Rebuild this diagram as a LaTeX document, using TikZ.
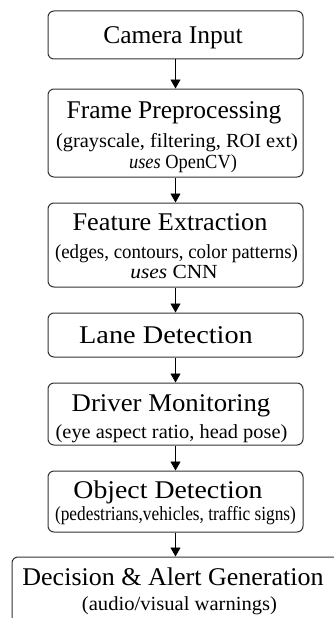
\documentclass[tikz,border=0pt]{standalone}
\usepackage{fontspec}
\setmainfont{Liberation Serif}
\usepackage{graphicx}
\usetikzlibrary{arrows.meta}
\newcommand\mytitle[2]{\scalebox{#1}[1]{\fontsize{25.5}{26}\selectfont #2}}
\newcommand\mysub[2]{\scalebox{#1}[1]{\fontsize{20}{21}\selectfont #2}}
\begin{document}
\begin{tikzpicture}[x=1pt,y=-1pt,
  box/.style={draw=black!80, line width=1pt, rounded corners=6pt, minimum width=255pt, inner sep=0pt},
  txt/.style={anchor=base, inner sep=0pt, text=black},
  arr/.style={draw=black, line width=0.9pt, -{Triangle[length=9pt,width=10pt]}}]
\useasboundingbox (0,0) rectangle (334,618);
\fill[white] (0,0) rectangle (334,618);
% boxes
\node[box, minimum height=48pt] (cam) at (175.5,35) {};
\node[box, minimum height=88pt] (pre) at (175.5,133) {};
\node[box, minimum height=84pt] (fea) at (175.5,245) {};
\node[box, minimum height=44pt] (lane) at (175.5,335) {};
\node[box, minimum height=62pt] (drv) at (175.5,414) {};
\node[box, minimum height=61pt] (obj) at (175.5,501.5) {};
\node[box, minimum height=82pt, minimum width=327pt] (dec) at (175.5,598) {};
% texts
\node[txt] (camt) at (173,43.5) {\mytitle{1}{Camera Input}};
\node[txt] (pret) at (174,118) {\mytitle{1}{Frame Preprocessing}};
\node[txt] (pres1) at (177,147) {\mysub{1.02}{(grayscale, filtering, ROI ext)}};
\node[txt] (pres2) at (183,168) {\mysub{0.92}{\textit{uses} OpenCV)}};
\node[txt] (feat) at (170,230) {\mytitle{1.03}{Feature Extraction}};
\node[txt] (feas1) at (176.5,258) {\mysub{0.945}{(edges, contours, color patterns)}};
\node[txt] (feas2) at (174,278) {\mysub{1.07}{\textit{uses} CNN}};
\node[txt] (lanet) at (166,343) {\mytitle{1.11}{Lane Detection}};
\node[txt] (drvt) at (171,411) {\mytitle{1.05}{Driver Monitoring}};
\node[txt] (drvs) at (171.5,438) {\mysub{1.02}{(eye aspect ratio, head pose)}};
\node[txt] (objt) at (168,498) {\mytitle{1.09}{Object Detection}};
\node[txt] (objs) at (175.5,520) {\mysub{0.865}{(pedestrians,vehicles, traffic signs)}};
\node[txt] (dect) at (173,585) {\mytitle{1.02}{Decision \& Alert Generation}};
\node[txt] (decs) at (179.5,610) {\mysub{1.03}{(audio/visual warnings)}};
% arrows
\draw[arr] (cam.south) -- (pre.north);
\draw[arr] (pre.south) -- (fea.north);
\draw[arr] (fea.south) -- (lane.north);
\draw[arr] (lane.south) -- (drv.north);
\draw[arr] (drv.south) -- (obj.north);
\draw[arr] (obj.south) -- (dec.north);
\end{tikzpicture}
\end{document}
